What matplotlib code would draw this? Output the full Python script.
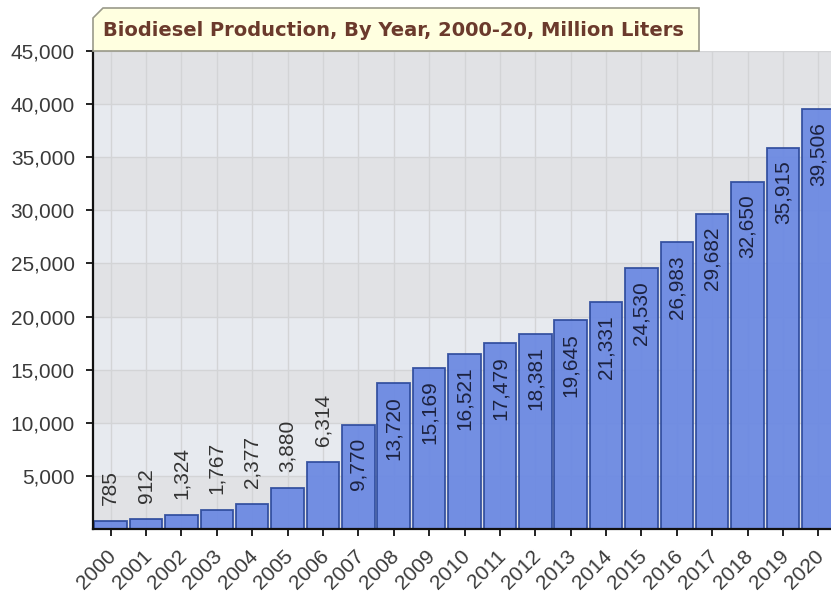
import numpy as np
import matplotlib
matplotlib.use('Agg')
from matplotlib import pyplot as plt
from matplotlib import ticker
from matplotlib.patches import Polygon
from matplotlib.transforms import ScaledTranslation

years = [str(y) for y in range(2000, 2021)]
production = [785, 912, 1324, 1767, 2377, 3880, 6314, 9770, 13720, 15169,
              16521, 17479, 18381, 19645, 21331, 24530, 26983, 29682,
              32650, 35915, 39506]
title = 'Biodiesel Production, By Year, 2000-20, Million Liters'

W, H = 831, 594
fig = plt.figure(figsize=(W / 100, H / 100), dpi=100)

# plot area runs a little past the right edge, like the original
ax = fig.add_axes([93 / W, (H - 529) / H, (836 - 93) / W, (529 - 51) / H])
ax.set_facecolor('#e7eaef')

# alternating horizontal bands
for i, lo in enumerate(range(0, 45000, 5000)):
    ax.axhspan(lo, lo + 5000, color='#e1e2e5' if i % 2 == 0 else '#e7eaef',
               zorder=0, lw=0)

x = np.arange(len(years))
bars = ax.bar(x, production, width=0.92, color='#6a88e2', edgecolor='#2e4b9c',
              linewidth=1.3, alpha=0.93, zorder=3)

ax.set_xlim(-0.5, len(years) - 0.5)
ax.set_ylim(0, 45000)
ax.yaxis.set_major_locator(ticker.FixedLocator(range(5000, 45001, 5000)))
ax.yaxis.set_major_formatter(ticker.FuncFormatter(lambda v, p: f'{int(v):,}'))
ax.set_xticks(x)
ax.set_xticklabels(years)
ax.grid(True, color='#d3d4d6', lw=1, zorder=1)
ax.set_axisbelow(True)

for s in ['top', 'right']:
    ax.spines[s].set_visible(False)
for s in ['left', 'bottom']:
    ax.spines[s].set_color('#111111')
    ax.spines[s].set_linewidth(1.6)
    ax.spines[s].set_zorder(5)

ax.tick_params(direction='out', length=5, width=1.3, color='#111111',
               labelcolor='#3a3a3a', labelsize=15)
ax.tick_params(axis='y', pad=8)
for lab in ax.get_yticklabels() + ax.get_xticklabels():
    lab.set_family('Liberation Sans')
for lab in ax.get_xticklabels():
    lab.set_rotation(45)
    lab.set_ha('right')
    lab.set_va('top')
    lab.set_rotation_mode('anchor')
    lab.set_transform(lab.get_transform() + ScaledTranslation(-4 / 100, -6 / 100, fig.dpi_scale_trans))

# value labels: above short bars, inside tall ones
for xi, v in zip(x, production):
    if v > 8000:
        ax.annotate(f'{v:,}', (xi, v), xytext=(0, -9), textcoords='offset points',
                    rotation=90, ha='center', va='top', fontsize=15,
                    family='Liberation Sans', color='#1c2240', zorder=6)
    else:
        ax.annotate(f'{v:,}', (xi, v), xytext=(0, 11.5), textcoords='offset points',
                    rotation=90, ha='center', va='bottom', fontsize=15,
                    family='Liberation Sans', color='#333333', zorder=6)

# title box with a clipped top-left corner
x0, x1 = 93 / W, 699 / W
y0, y1 = 1 - 51 / H, 1 - 8 / H
c = 10
box = Polygon([(x0, y0), (x0, y1 - c / H), (x0 + c / W, y1), (x1, y1), (x1, y0)],
              closed=True, transform=fig.transFigure, facecolor='#ffffe0',
              edgecolor='#9a9a8a', lw=1.2, zorder=10)
fig.patches.append(box)
fig.text(103 / W, 1 - 31 / H, title, fontsize=14, fontweight='bold',
         color='#6b3a2c', ha='left', va='center', family='DejaVu Sans', zorder=11)

fig.savefig('out.png', dpi=100)
